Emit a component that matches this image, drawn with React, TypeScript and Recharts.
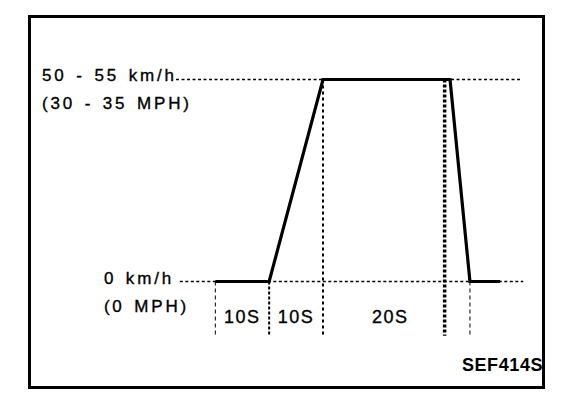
import React from 'react';
import { LineChart, Line, XAxis, YAxis, ReferenceLine, ReferenceDot } from 'recharts';

// ---- data (time in seconds, speed in km/h) ----
const TIME_S = [0, 10, 20, 43.6, 47.3, 52.9];
const SPEED_KMH = [0, 0, 55, 55, 0, 0];

// speed levels and extent of their dotted guide lines (seconds)
const LEVELS = [55, 0];
const LEVEL_GUIDE_FROM = [-7.3, -6.6];
const LEVEL_GUIDE_TO = [56.6, 57.2];

// vertical phase markers (seconds) and the level each starts from
const MARK_T = [0, 10, 20, 42.6, 47.3];
const MARK_TOP = [0, 0, 55, 55, 0];
const MARK_BOTTOM = -14.8;

// phase duration labels
const PHASE_LABELS = ['10S', '10S', '20S'];
const PHASE_LABEL_T = [5, 15, 32.5];
const PHASE_LABEL_V = -11.2;

// speed level labels
const LEVEL_LABELS = ['50 - 55 km/h', '(30 - 35 MPH)', '0 km/h', '(0 MPH)'];
const LEVEL_LABEL_T = [-32.2, -32.2, -20.7, -20.7];
const LEVEL_LABEL_V = [54.5, 47.05, -0.7, -8.3];

const CODE_LABEL = 'SEF414S';

const data = TIME_S.map((t, i) => ({ t, v: SPEED_KMH[i] }));

const FONT = '"Liberation Sans", Arial, Helvetica, sans-serif';

const markStyles = [
  { w: 1, d: '4 3' },
  { w: 2, d: '3 2' },
  { w: 2, d: '3 3' },
  { w: 3.5, d: '3 2' },
  { w: 1, d: '4 3' },
];

type LabelStyle = { size: number; bold?: boolean; ls: number; ws: number };

function textLabel(text: string, anchor: 'start' | 'middle' | 'end', st: LabelStyle) {
  return (props: any) => {
    const vb = props.viewBox || {};
    const x = (vb.x || 0) + (vb.width || 0) / 2;
    const y = (vb.y || 0) + (vb.height || 0) / 2;
    return (
      <text
        x={x}
        y={y}
        textAnchor={anchor}
        fontFamily={FONT}
        fontSize={st.size}
        fontWeight={st.bold ? 'bold' : 'normal'}
        fill="#000"
        stroke="#000"
        strokeWidth={st.bold ? 0 : 0.35}
        style={{
          whiteSpace: 'pre',
          letterSpacing: st.ls + 'px',
          wordSpacing: st.ws + 'px',
        }}
      >
        {text}
      </text>
    );
  };
}

const LEVEL_STYLE: LabelStyle = { size: 17, ls: 2.8, ws: 2.2 };
const PHASE_STYLE: LabelStyle = { size: 18, ls: 1.5, ws: 0 };
const CODE_STYLE: LabelStyle = { size: 18, bold: true, ls: 0.6, ws: 0 };

export default function App() {
  return (
    <div style={{ position: 'absolute', left: 0, top: 0, width: 576, height: 404, background: '#fff' }}>
      <div
        style={{
          position: 'absolute',
          left: 28,
          top: 15,
          width: 517,
          height: 374,
          border: '3px solid #000',
          boxSizing: 'border-box',
        }}
      />
      <div style={{ position: 'absolute', left: 0, top: 0 }}>
        <LineChart
          width={576}
          height={404}
          data={data}
          margin={{ top: 6.04, right: 0, bottom: 12.3, left: 0 }}
        >
          <XAxis dataKey="t" type="number" domain={[-40, 67]} hide allowDataOverflow />
          <YAxis type="number" domain={[-30, 75]} hide allowDataOverflow />
          {LEVELS.map((lv, i) => (
            <ReferenceLine
              key={'lv' + i}
              segment={[
                { x: LEVEL_GUIDE_FROM[i], y: lv },
                { x: LEVEL_GUIDE_TO[i], y: lv },
              ]}
              stroke="#000"
              strokeWidth={1.3}
              strokeDasharray="3 2.5"
            />
          ))}
          {MARK_T.map((t, i) => (
            <ReferenceLine
              key={'mk' + i}
              segment={[
                { x: t, y: MARK_TOP[i] },
                { x: t, y: MARK_BOTTOM },
              ]}
              stroke="#000"
              strokeWidth={markStyles[i].w}
              strokeDasharray={markStyles[i].d}
            />
          ))}
          <Line
            type="linear"
            dataKey="v"
            stroke="#000"
            strokeWidth={3.2}
            strokeLinejoin="miter"
            dot={false}
            activeDot={false}
            isAnimationActive={false}
          />
          {PHASE_LABELS.map((txt, i) => (
            <ReferenceDot
              key={'ph' + i}
              x={PHASE_LABEL_T[i]}
              y={PHASE_LABEL_V}
              r={0}
              fill="none"
              stroke="none"
              label={textLabel(txt, 'middle', PHASE_STYLE)}
            />
          ))}
          {LEVEL_LABELS.map((txt, i) => (
            <ReferenceDot
              key={'ll' + i}
              x={LEVEL_LABEL_T[i]}
              y={LEVEL_LABEL_V[i]}
              r={0}
              fill="none"
              stroke="none"
              label={textLabel(txt, 'start', LEVEL_STYLE)}
            />
          ))}
          <ReferenceDot
            x={60.9}
            y={-24.4}
            r={0}
            fill="none"
            stroke="none"
            label={textLabel(CODE_LABEL, 'end', CODE_STYLE)}
          />
        </LineChart>
      </div>
    </div>
  );
}
